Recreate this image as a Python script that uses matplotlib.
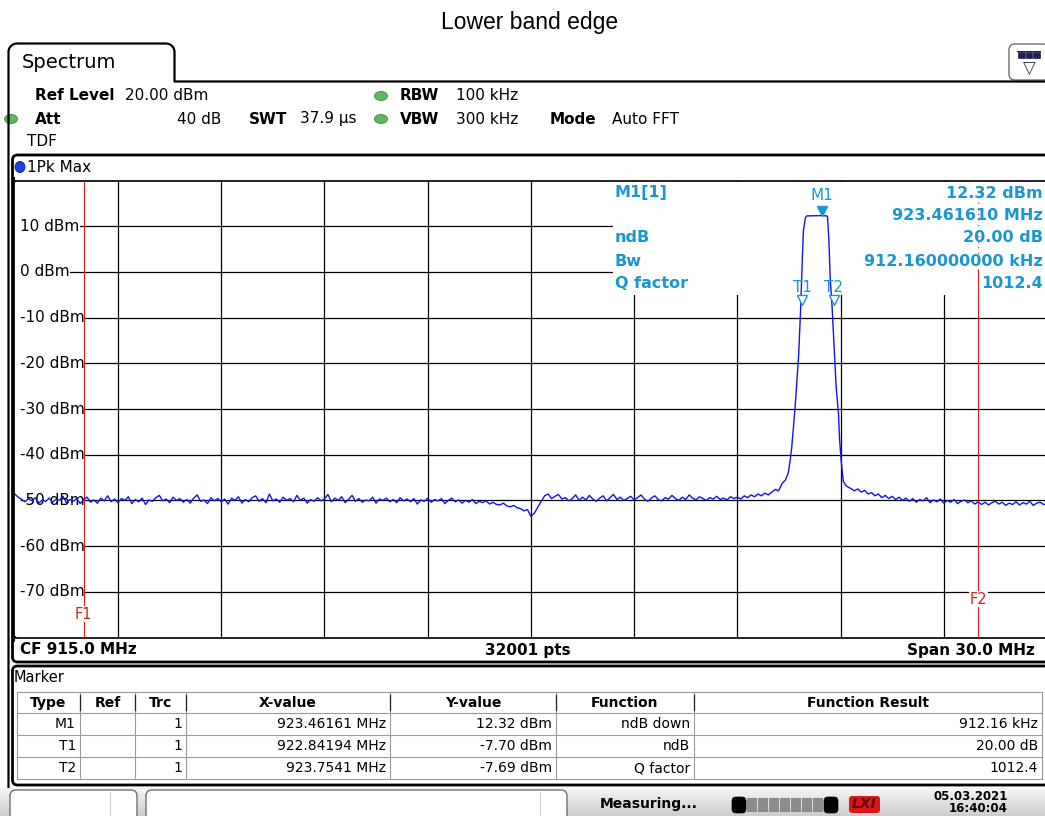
import numpy as np
import matplotlib
matplotlib.use("Agg")
import matplotlib.pyplot as plt
from matplotlib.patches import Rectangle, FancyBboxPatch, Ellipse
from matplotlib.transforms import blended_transform_factory, offset_copy

# ---- trace data read from the screen (MHz / dBm) ----
# noise floor 900.0 .. 922.2 MHz, one value per 0.1 MHz
floor_lo = [
    -48.6, -49.3, -49.8, -50.3, -49.6, -50.1, -49.4, -50.6, -49.9, -50.2,
    -49.5, -50.4, -49.7, -50.0, -49.1, -50.5, -49.8, -50.2, -49.6, -50.7,
    -49.8, -49.3, -50.4, -49.9, -50.6, -49.5, -50.1, -49.0, -50.3, -49.7,
    -50.5, -49.6, -50.0, -49.2, -50.7, -49.8, -50.3, -49.5, -50.9, -49.9,
    -50.2, -49.4, -48.9, -50.1, -49.7, -50.5, -49.3, -50.0, -49.6, -50.4,
    -49.8, -50.6, -49.5, -48.8, -50.2, -49.9, -50.7, -49.4, -50.1, -49.6,
    -50.3, -49.7, -50.8, -49.5, -50.0, -49.2, -50.6, -49.8, -50.3, -49.4,
    -49.0, -50.2, -49.6, -50.5, -48.6, -50.1, -49.7, -50.4, -49.3, -50.0,
    -49.6, -50.3, -48.9, -50.0, -49.5, -50.6, -49.8, -50.2, -49.4, -50.1,
    -49.7, -48.7, -50.3, -49.5, -50.0, -49.2, -50.5, -49.8, -48.9, -50.2,
    -49.6, -50.4, -49.9, -50.1, -49.3, -50.6, -49.7, -50.0, -49.5, -50.3,
    -49.8, -50.5, -49.4, -50.1, -49.7, -50.3, -49.6, -50.8, -49.9, -50.2,
    -49.5, -50.4, -49.8, -50.1, -49.6, -50.7, -50.0, -49.5, -50.3, -49.9,
    -50.6, -50.0, -50.4, -49.8, -50.7, -50.2, -50.5, -50.1, -50.8, -50.4,
    -50.9, -51.0, -50.6, -51.2, -51.4, -51.1, -51.6, -51.8, -52.3, -52.0,
    -53.5, -52.8, -51.5, -50.2, -49.0, -48.6, -49.6, -49.1, -48.7, -49.7,
    -49.4, -50.1, -49.6, -48.8, -50.0, -49.3, -49.9, -48.9, -49.7, -50.2,
    -49.5, -49.0, -50.1, -49.4, -48.7, -49.8, -49.3, -50.0, -49.6, -49.1,
    -49.9, -49.4, -48.8, -49.7, -50.2, -49.5, -49.0, -49.8, -50.1, -49.4,
    -49.7, -48.9, -49.6, -50.0, -49.3, -49.8, -48.8, -49.5, -49.9, -49.2,
    -49.6, -50.0, -49.4, -49.7, -49.1, -49.8, -49.5, -49.9, -49.2, -49.6,
    -49.3, -49.7, -49.0, -49.4, -48.8, -49.2, -48.6, -49.0, -48.4, -48.8,
    -48.2, -47.6, -47.9,
]

# carrier
peak_f = [922.30, 922.40, 922.48, 922.53, 922.58, 922.63, 922.68, 922.73,
          922.78, 922.842, 922.88, 922.92, 922.98, 923.02, 923.4616, 923.60,
          923.62, 923.66, 923.70, 923.7541, 923.81, 923.87, 923.94, 923.97,
          924.02, 924.08, 924.14, 924.20]
peak_dbm = [-46.3, -45.5, -44.0, -41.5, -38.5, -34.0, -29.5, -24.0,
            -18.5, -7.70, 1.0, 9.0, 11.9, 12.25, 12.32, 12.25,
            12.1, 7.0, -1.5, -7.69, -16.0, -25.0, -31.0, -36.5,
            -41.5, -45.8, -46.6, -47.0]

# noise floor 924.3 .. 930.0 MHz
floor_hi = [
    -47.4, -47.9, -47.5, -48.2, -47.8, -48.6, -48.3,
    -49.0, -48.6, -49.4, -48.9, -49.6, -49.1, -49.8, -49.3, -50.0, -49.5,
    -50.2, -49.6, -50.4, -49.8, -50.1, -49.4, -50.5, -49.9, -50.3, -49.7,
    -50.6, -50.0, -50.4, -49.8, -50.7, -50.2, -49.9, -50.5, -50.1, -50.8,
    -50.3, -50.9, -50.4, -51.0, -50.5, -50.2, -50.8, -50.4, -51.1, -50.6,
    -50.9, -50.3, -51.0, -50.5, -50.8, -50.2, -51.1, -50.6, -50.4, -50.9,
    -50.7,
]

f_lo = 900.0 + 0.1 * np.arange(len(floor_lo))
f_hi = 924.3 + 0.1 * np.arange(len(floor_hi))
freq = np.concatenate([f_lo, peak_f, f_hi])
level = np.concatenate([floor_lo, peak_dbm, floor_hi])

ytick_vals = [10, 0, -10, -20, -30, -40, -50, -60, -70]
lim_f1, lim_f2 = 902.0, 928.0

m1 = (923.4616, 12.32)
t1 = (922.84194, -7.70)
t2 = (923.7541, -7.69)

info_labels = ["M1[1]", "ndB", "Bw", "Q factor"]
info_label_y = [193, 238, 261, 284]
info_values = ["12.32 dBm", "923.461610 MHz", "20.00 dB", "912.160000000 kHz", "1012.4"]
info_value_y = [193, 215, 238, 261, 284]

tbl_head = ["Type", "Ref", "Trc", "X-value", "Y-value", "Function", "Function Result"]
tbl_type = ["M1", "T1", "T2"]
tbl_ref = ["", "", ""]
tbl_trc = ["1", "1", "1"]
tbl_x = ["923.46161 MHz", "922.84194 MHz", "923.7541 MHz"]
tbl_y = ["12.32 dBm", "-7.70 dBm", "-7.69 dBm"]
tbl_func = ["ndB down", "ndB", "Q factor"]
tbl_res = ["912.16 kHz", "20.00 dB", "1012.4"]

# ---- figure in screen pixels ----
W, H = 1045, 816
fig = plt.figure(figsize=(W / 100, H / 100), dpi=100)
plt.rcParams['font.family'] = 'DejaVu Sans'

ov = fig.add_axes([0, 0, 1, 1], zorder=1)
ov.set_xlim(0, W)
ov.set_ylim(H, 0)
ov.axis('off')

def frac(l, t, r, b):
    return [l / W, 1 - b / H, (r - l) / W, (b - t) / H]

BLUE = '#1a96d4'
RED = '#d42020'

ov.text(530, 22, "Lower band edge", ha='center', va='center', fontsize=16.5,
        family='Liberation Sans')

# outer tab frame
def arc(cx, cy, r, a0, a1):
    a = np.radians(np.linspace(a0, a1, 12))
    return cx + r * np.cos(a), cy - r * np.sin(a)

ax1, ay1 = arc(17, 52, 8.5, 180, 90)
ax2, ay2 = arc(166, 52, 8.5, 90, 0)
tx = np.concatenate([[8.5], ax1, ax2, [174.5, 174.5, 1045]])
ty = np.concatenate([[788], ay1, ay2, [76, 81.5, 81.5]])
ov.plot(tx, ty, color='black', lw=1.6, solid_capstyle='butt')
ov.text(22, 63, "Spectrum", ha='left', va='center', fontsize=14)

# icon at top right
ov.add_patch(FancyBboxPatch((1009, 44), 40, 36, boxstyle="round,pad=0,rounding_size=6",
                            fc='white', ec='#707070', lw=1.0))
for k in range(3):
    ov.add_patch(Rectangle((1018 + k * 7.5, 52), 6.5, 6, fc='#202050', ec='#202050', lw=0.5))
ov.add_patch(Rectangle((1017, 51), 24, 1.4, fc='#202050', ec='none'))
ov.text(1029, 69, "\u25BD", ha='center', va='center', fontsize=12, color='#303050')

# header settings
for x, y, s, bold in [(35, 95, "Ref Level", True), (125, 95, "20.00 dBm", False),
                      (400, 95, "RBW", True), (456, 95, "100 kHz", False),
                      (35, 119, "Att", True), (249, 119, "SWT", True),
                      (300, 119, "37.9 \u00b5s", False), (400, 119, "VBW", True),
                      (456, 119, "300 kHz", False), (550, 119, "Mode", True),
                      (612, 119, "Auto FFT", False), (27, 141, "TDF", False)]:
    ov.text(x, y, s, ha='left', va='center', fontsize=11,
            fontweight='bold' if bold else 'normal')
ov.text(221, 119, "40 dB", ha='right', va='center', fontsize=11)
for cx, cy in [(381, 96), (381, 119), (11, 119)]:
    ov.add_patch(Ellipse((cx, cy), 13, 9, fc='#5cb85c', ec='#3d8b3d', lw=0.6))

# inner panel
ov.add_patch(FancyBboxPatch((12.5, 155), 1045, 507, boxstyle="round,pad=0,rounding_size=5",
                            fc='white', ec='black', lw=2.0))
ov.add_patch(Ellipse((20, 167), 10, 11, fc='#2040e0', ec='#102090', lw=0.6))
ov.text(27, 167, "1Pk Max", ha='left', va='center', fontsize=11)
ov.text(20, 650, "CF 915.0 MHz", ha='left', va='center', fontsize=11, fontweight='bold')
ov.text(528, 650, "32001 pts", ha='center', va='center', fontsize=11, fontweight='bold')
ov.text(1035, 650, "Span 30.0 MHz", ha='right', va='center', fontsize=11, fontweight='bold')

# ---- diagram ----
ax = fig.add_axes(frac(14.8, 180.5, 1047, 637.5), zorder=2)
ax.set_xlim(900, 930)
ax.set_ylim(-80, 20)
ax.set_xticks(np.arange(900, 931, 3))
ax.set_yticks(np.arange(-80, 21, 10))
ax.tick_params(length=0, labelleft=False, labelbottom=False)
ax.grid(True, color='black', lw=0.9)
ax.spines['left'].set_visible(False)
ax.spines['right'].set_visible(False)
for side in ['top', 'bottom']:
    ax.spines[side].set_linewidth(1.2)

# blank area behind the marker info and left of the level labels
ax.add_patch(Rectangle((613, 182), 440, 113, transform=ov.transData,
                       fc='white', ec='none', zorder=1.8))
ax.add_patch(Rectangle((14.5, 182), 6.5, 454, transform=ov.transData,
                       fc='white', ec='none', zorder=1.8))
# panel border along the diagram
ax.plot([12.5, 12.5], [178, 640], transform=ov.transData, color='black', lw=2.0,
        clip_on=False, zorder=5)

ylab_tr = blended_transform_factory(ov.transData, ax.transData)
for v in ytick_vals:
    ax.text(20, v, f"{v} dBm", transform=ylab_tr, ha='left', va='center', fontsize=11,
            zorder=2.2, bbox=dict(fc='white', ec='none', pad=0.4))

# limit lines
ax.plot([lim_f1, lim_f1], [-80, 20], color=RED, lw=0.8, zorder=2.6)
ax.plot([lim_f2, lim_f2], [-80, 0.4], color=RED, lw=0.8, zorder=2.6)
ax.plot([lim_f2, lim_f2], [0.4, 20], color=RED, lw=0.8, ls=(0, (1, 4)), zorder=2.6)
ax.text(lim_f1, -74.9, "F1", color=RED, ha='center', va='center', fontsize=10.5,
        zorder=2.7, bbox=dict(fc='white', ec='none', pad=0.5))
ax.text(lim_f2, -71.6, "F2", color=RED, ha='center', va='center', fontsize=10.5,
        zorder=2.7, bbox=dict(fc='white', ec='none', pad=0.5))

ax.plot(freq, level, color='#1414e6', lw=1.0, zorder=3)

# markers
up5 = offset_copy(ax.transData, fig=fig, x=0, y=5, units='dots')
up7 = offset_copy(ax.transData, fig=fig, x=1.5, y=7, units='dots')
ax.plot([m1[0]], [m1[1]], transform=up5, marker='v', ms=7.5, color=BLUE, zorder=4)
ax.text(m1[0], m1[1], "M1", transform=offset_copy(ax.transData, fig=fig, y=20, units='dots'),
        ha='center', va='center', color=BLUE, fontsize=11, zorder=4)
for (fx, fy), name in [(t1, "T1"), (t2, "T2")]:
    ax.plot([fx], [fy], transform=up7, marker='v', ms=7, mfc='white', mec=BLUE, mew=1.0, zorder=4)
    ax.text(fx, fy, name, transform=offset_copy(ax.transData, fig=fig, x=1.5, y=20, units='dots'),
            ha='center', va='center', color=BLUE, fontsize=11, zorder=4)

for s, y in zip(info_labels, info_label_y):
    ax.text(615, y, s, transform=ov.transData, ha='left', va='center', color=BLUE,
            fontsize=11.5, fontweight='bold', zorder=4)
for s, y in zip(info_values, info_value_y):
    ax.text(1043, y, s, transform=ov.transData, ha='right', va='center', color=BLUE,
            fontsize=11.5, fontweight='bold', zorder=4)

# ---- marker table ----
ov.add_patch(FancyBboxPatch((12.5, 666), 1045, 119, boxstyle="round,pad=0,rounding_size=5",
                            fc='white', ec='black', lw=2.0))
ov.text(14, 678, "Marker", ha='left', va='center', fontsize=10.5)
col_x = [17, 80, 135, 186, 390, 556, 694, 1042]
row_y = [692, 713, 735, 757, 779]
for y in row_y:
    ov.plot([col_x[0], col_x[-1]], [y, y], color='#9a9a9a', lw=0.8)
for x in col_x:
    ov.plot([x, x], [row_y[0], row_y[-1]], color='#9a9a9a', lw=0.8)
for x in col_x[1:-1]:
    ov.plot([x, x], [row_y[0] + 3, row_y[1] - 3], color='#202020', lw=0.9)
for i, s in enumerate(tbl_head):
    ov.text((col_x[i] + col_x[i + 1]) / 2, 703, s, ha='center', va='center',
            fontsize=10, fontweight='bold')
cols = [tbl_type, tbl_ref, tbl_trc, tbl_x, tbl_y, tbl_func, tbl_res]
for i, col in enumerate(cols):
    for j, s in enumerate(col):
        ov.text(col_x[i + 1] - 4, (row_y[j + 1] + row_y[j + 2]) / 2, s, ha='right',
                va='center', fontsize=10)

# ---- status bar ----
grad = np.linspace(0.97, 0.80, 30).reshape(-1, 1)
ov.imshow(grad, cmap='gray', vmin=0, vmax=1, extent=(0, W, 816, 787), aspect='auto', zorder=0.5)
ov.set_xlim(0, W)
ov.set_ylim(H, 0)
for l, r, d in [(10, 137, 110), (146, 567, 540)]:
    ov.add_patch(FancyBboxPatch((l, 790), r - l, 34, boxstyle="round,pad=0,rounding_size=6",
                                fc='white', ec='#707070', lw=1.0, zorder=1))
    ov.plot([d, d], [792, 816], color='#d0d0d0', lw=0.8, zorder=1.1)
ov.text(600, 804, "Measuring...", ha='left', va='center', fontsize=10, fontweight='bold')
ov.add_patch(FancyBboxPatch((732, 797), 14, 16, boxstyle="round,pad=0,rounding_size=4",
                            fc='black', ec='black', lw=0.5, zorder=1))
ov.add_patch(FancyBboxPatch((824, 797), 14, 16, boxstyle="round,pad=0,rounding_size=4",
                            fc='black', ec='black', lw=0.5, zorder=1))
for k in range(7):
    ov.add_patch(Rectangle((747 + k * 11, 798), 10, 14, fc='#8c8c8c', ec='none', zorder=1))
ov.add_patch(FancyBboxPatch((849, 796), 31, 17, boxstyle="round,pad=0,rounding_size=3",
                            fc='#d81818', ec='none', zorder=1))
ov.text(864.5, 804.5, "LXI", ha='center', va='center', fontsize=10, fontweight='bold',
        style='italic', color='#6a0000', zorder=1.2)
ov.text(1008, 797, "05.03.2021", ha='right', va='center', fontsize=8.5, fontweight='bold')
ov.text(1008, 809, "16:40:04", ha='right', va='center', fontsize=8.5, fontweight='bold')

fig.savefig("out.png", dpi=100, facecolor='white')
